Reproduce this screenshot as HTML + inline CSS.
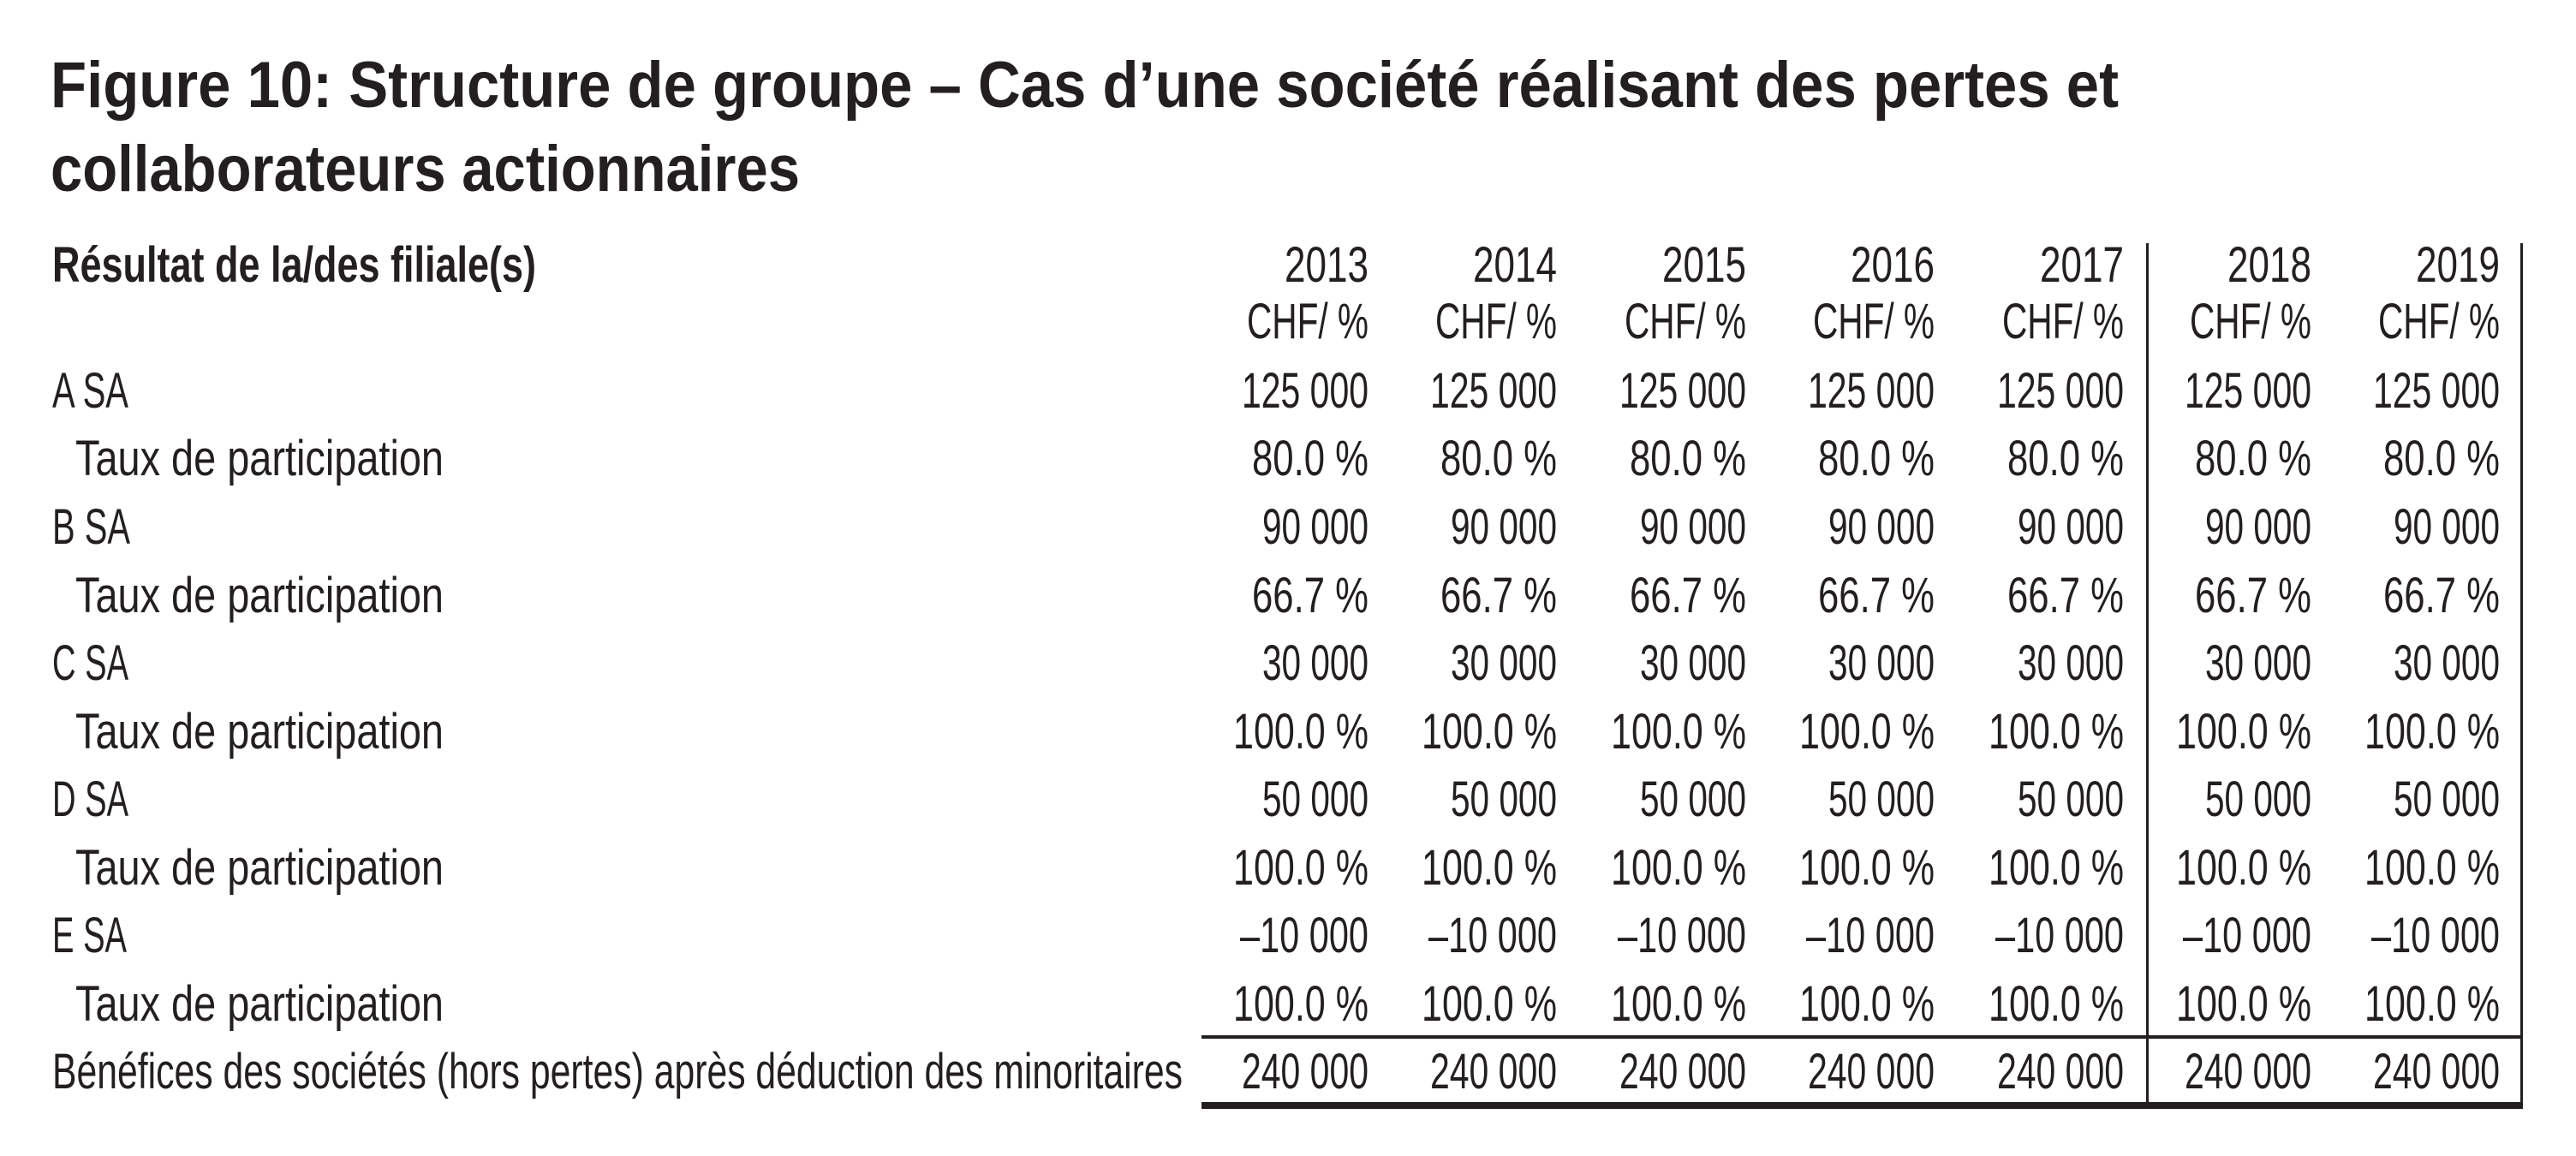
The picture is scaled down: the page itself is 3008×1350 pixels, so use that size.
<!DOCTYPE html>
<html><head><meta charset="utf-8"><style>
html,body{margin:0;padding:0;background:#fff;}
svg{display:block;}
text{font-family:"Liberation Sans Narrow","Liberation Sans",sans-serif;fill:#231f20;}
.t{font-size:76px;font-weight:bold;}
.h{font-size:58px;font-weight:bold;}
.b{font-size:58px;}
.v{font-size:58px;text-anchor:end;}
</style></head><body>
<svg width="3008" height="1350" viewBox="0 0 3008 1350" xmlns="http://www.w3.org/2000/svg">
<text class="t" x="59" y="125" textLength="2415" lengthAdjust="spacingAndGlyphs">Figure 10: Structure de groupe – Cas d’une société réalisant des pertes et</text>
<text class="t" x="59" y="223" textLength="875" lengthAdjust="spacingAndGlyphs">collaborateurs actionnaires</text>
<text class="h" x="61" y="329" textLength="565" lengthAdjust="spacingAndGlyphs">Résultat de la/des filiale(s)</text>

<text class="b" x="61" y="476" textLength="89" lengthAdjust="spacingAndGlyphs">A SA</text>
<text class="b" x="88" y="555" textLength="430" lengthAdjust="spacingAndGlyphs">Taux de participation</text>
<text class="b" x="61" y="635" textLength="91" lengthAdjust="spacingAndGlyphs">B SA</text>
<text class="b" x="88" y="715" textLength="430" lengthAdjust="spacingAndGlyphs">Taux de participation</text>
<text class="b" x="61" y="794" textLength="89" lengthAdjust="spacingAndGlyphs">C SA</text>
<text class="b" x="88" y="874" textLength="430" lengthAdjust="spacingAndGlyphs">Taux de participation</text>
<text class="b" x="61" y="953" textLength="89" lengthAdjust="spacingAndGlyphs">D SA</text>
<text class="b" x="88" y="1033" textLength="430" lengthAdjust="spacingAndGlyphs">Taux de participation</text>
<text class="b" x="61" y="1112" textLength="87" lengthAdjust="spacingAndGlyphs">E SA</text>
<text class="b" x="88" y="1192" textLength="430" lengthAdjust="spacingAndGlyphs">Taux de participation</text>
<text class="b" x="61" y="1271" textLength="1320" lengthAdjust="spacingAndGlyphs">Bénéfices des sociétés (hors pertes) après déduction des minoritaires</text>

<g id="cols"></g>
<rect x="1403" y="1209" width="1543" height="4" fill="#231f20"/>
<rect x="1403" y="1287" width="1543" height="8" fill="#231f20"/>
<rect x="2506" y="284" width="3" height="1011" fill="#231f20"/>
<rect x="2943" y="284" width="3" height="1011" fill="#231f20"/>

<g>
<text class="v" x="1598" y="329" textLength="98" lengthAdjust="spacingAndGlyphs">2013</text>
<text class="v" x="1818" y="329" textLength="98" lengthAdjust="spacingAndGlyphs">2014</text>
<text class="v" x="2039" y="329" textLength="98" lengthAdjust="spacingAndGlyphs">2015</text>
<text class="v" x="2259" y="329" textLength="98" lengthAdjust="spacingAndGlyphs">2016</text>
<text class="v" x="2480" y="329" textLength="98" lengthAdjust="spacingAndGlyphs">2017</text>
<text class="v" x="2699" y="329" textLength="98" lengthAdjust="spacingAndGlyphs">2018</text>
<text class="v" x="2919" y="329" textLength="98" lengthAdjust="spacingAndGlyphs">2019</text>
</g>
<g id="rows">
<!-- generated rows below -->
</g>
<script>
var xs=[1598,1818,2039,2259,2480,2699,2919];
var rows=[[395,"CHF/ %",142],[476,"125 000",148],[555,"80.0 %",136],[635,"90 000",124],[715,"66.7 %",136],[794,"30 000",124],[874,"100.0 %",158],[953,"50 000",124],[1033,"100.0 %",158],[1112,"–10 000",150],[1192,"100.0 %",158],[1271,"240 000",148]];
var g=document.getElementById("rows"),ns="http://www.w3.org/2000/svg";
rows.forEach(function(r){xs.forEach(function(x){var t=document.createElementNS(ns,"text");t.setAttribute("class","v");t.setAttribute("x",x);t.setAttribute("y",r[0]);t.setAttribute("textLength",r[2]);t.setAttribute("lengthAdjust","spacingAndGlyphs");t.textContent=r[1];g.appendChild(t);});});
</script>
</svg>
</body></html>
